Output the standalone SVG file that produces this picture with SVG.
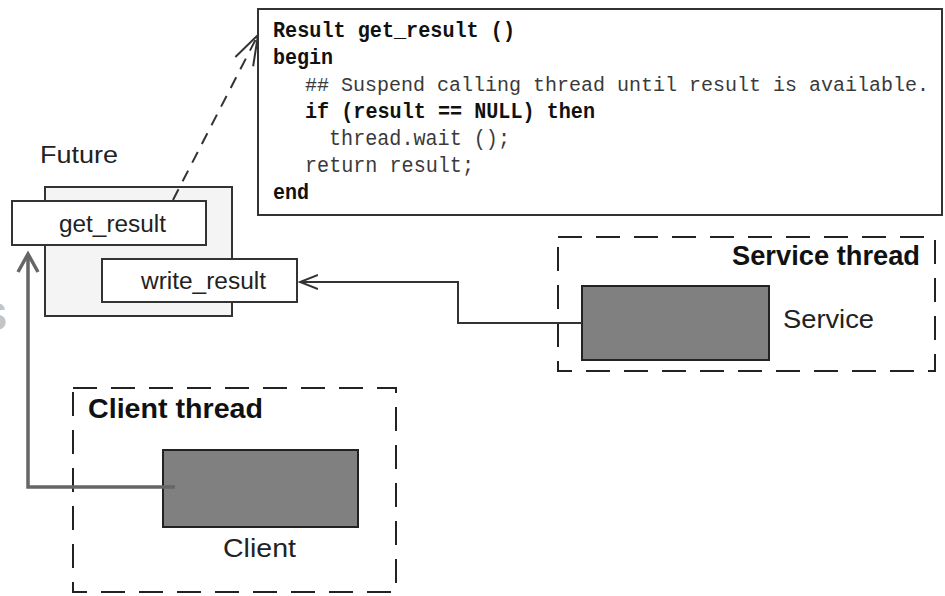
<svg xmlns="http://www.w3.org/2000/svg" width="945" height="596" viewBox="0 0 945 596">
<defs>
<style>
.lbl{font-family:"Liberation Sans",Arial,sans-serif;font-size:23px;fill:#222}
.bold{font-family:"Liberation Sans",Arial,sans-serif;font-size:27px;font-weight:bold;fill:#111}
.code{font-family:"Liberation Mono","DejaVu Sans Mono",monospace;font-size:22px;fill:#3a3a3a}
.codeb{font-family:"Liberation Mono","DejaVu Sans Mono",monospace;font-size:22px;font-weight:bold;fill:#111}
.box{fill:#fff;stroke:#333;stroke-width:2}
.thread{fill:none;stroke:#222;stroke-width:2;stroke-dasharray:24 14}
.proc{fill:#808080;stroke:#222;stroke-width:2}
</style>
<marker id="open" markerWidth="20" markerHeight="20" refX="18" refY="10" orient="auto" markerUnits="userSpaceOnUse">
<path d="M0,3 L18,10 L0,17" fill="none" stroke="#333" stroke-width="2"/>
</marker>
<marker id="openThick" markerWidth="24" markerHeight="24" refX="20" refY="12" orient="auto" markerUnits="userSpaceOnUse">
<path d="M2,2 L20,12 L2,22" fill="none" stroke="#666" stroke-width="3.5"/>
</marker>
<marker id="openDash" markerWidth="34" markerHeight="34" refX="32" refY="17" orient="auto" markerUnits="userSpaceOnUse">
<path d="M2,7 L32,17 L2,27" fill="none" stroke="#333" stroke-width="2"/>
</marker>
</defs>

<text x="-19" y="330" font-family="Liberation Sans,Arial,sans-serif" font-size="39" font-weight="bold" fill="#c4c4c4">S</text>

<g id="code">
<rect x="258" y="9" width="684" height="206" class="box"/>
<text x="273" y="37" class="codeb" textLength="242" lengthAdjust="spacingAndGlyphs">Result get_result ()</text>
<text x="273" y="64" class="codeb" textLength="60" lengthAdjust="spacingAndGlyphs">begin</text>
<text x="305" y="91" class="code" style="font-size:20px">## Suspend calling thread until result is available.</text>
<text x="305" y="118" class="codeb" textLength="290" lengthAdjust="spacingAndGlyphs">if (result == NULL) then</text>
<text x="329" y="145" class="code" textLength="181" lengthAdjust="spacingAndGlyphs">thread.wait ();</text>
<text x="305" y="172" class="code" textLength="169" lengthAdjust="spacingAndGlyphs">return result;</text>
<text x="273" y="199" class="codeb" textLength="36" lengthAdjust="spacingAndGlyphs">end</text>
</g>

<g id="future">
<text x="40" y="163" class="lbl" textLength="78" lengthAdjust="spacingAndGlyphs">Future</text>
<rect x="45" y="187" width="187" height="129" fill="#f4f4f4" stroke="#333" stroke-width="2"/>
</g>

<g id="get_result">
<rect x="12" y="201" width="194" height="44" class="box"/>
<text x="59" y="232" class="lbl" textLength="107" lengthAdjust="spacingAndGlyphs">get_result</text>
</g>

<g id="write_result">
<rect x="102" y="259" width="195" height="43" class="box"/>
<text x="141" y="289" class="lbl" textLength="125" lengthAdjust="spacingAndGlyphs">write_result</text>
</g>

<g id="service_thread">
<rect x="558" y="237" width="377" height="134" class="thread"/>
<text x="732" y="265" class="bold" textLength="188" lengthAdjust="spacingAndGlyphs">Service thread</text>
<rect x="582" y="286" width="187" height="74" class="proc"/>
<text x="783" y="328" class="lbl" style="font-size:25px" textLength="91" lengthAdjust="spacingAndGlyphs">Service</text>
</g>

<g id="client_thread">
<rect x="73" y="388" width="323" height="204" class="thread"/>
<text x="88" y="418" class="bold" textLength="175" lengthAdjust="spacingAndGlyphs">Client thread</text>
<rect x="163" y="450" width="195" height="77" class="proc"/>
<text x="223" y="557" class="lbl" style="font-size:25px" textLength="73" lengthAdjust="spacingAndGlyphs">Client</text>
</g>

<g id="connectors">
<path d="M173,200 L258,35" fill="none" stroke="#333" stroke-width="2" stroke-dasharray="12 9" marker-end="url(#openDash)"/>
<path d="M582,323 L458,323 L458,282 L300,282" fill="none" stroke="#333" stroke-width="2" marker-end="url(#open)"/>
<path d="M175,487 L28,487 L28,254" fill="none" stroke="#666" stroke-width="3.5" marker-end="url(#openThick)"/>
</g>
</svg>
